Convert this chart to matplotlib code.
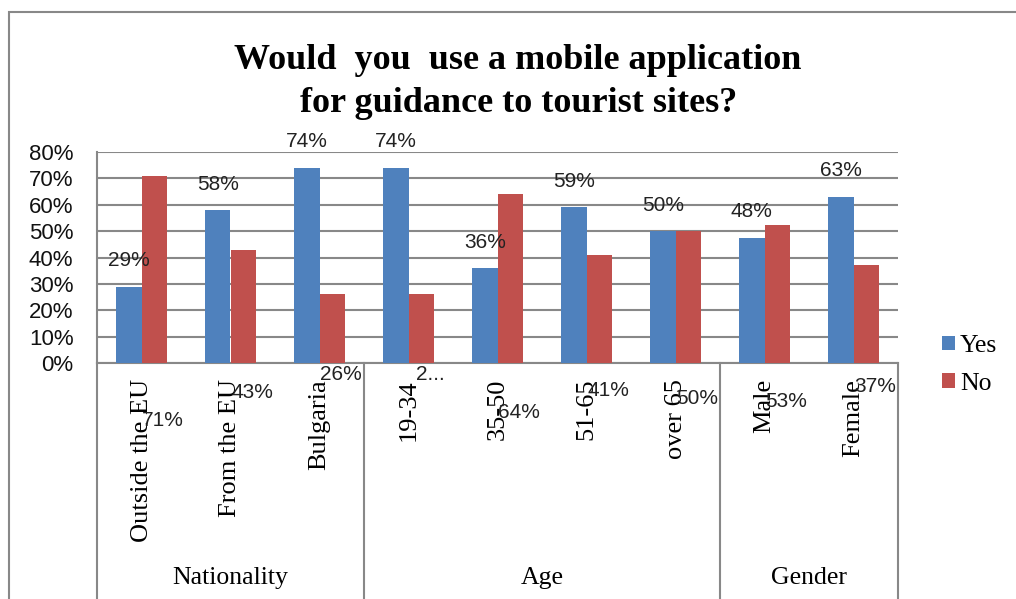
import matplotlib
matplotlib.use("Agg")
import matplotlib.pyplot as plt
from matplotlib.patches import Rectangle, Patch
from matplotlib.lines import Line2D
from matplotlib.transforms import blended_transform_factory

# ---- data ----
categories = ["Outside the EU", "From the EU", "Bulgaria",
              "19-34", "35-50", "51-65", "over 65",
              "Male", "Female"]
groups = ["Nationality", "Age", "Gender"]
group_sizes = [3, 4, 2]
yes_values = [0.29, 0.58, 0.74, 0.74, 0.36, 0.59, 0.50, 0.475, 0.63]
no_values = [0.71, 0.43, 0.26, 0.26, 0.64, 0.41, 0.50, 0.525, 0.37]
yes_labels = ["29%", "58%", "74%", "74%", "36%", "59%", "50%", "48%", "63%"]
no_labels = ["71%", "43%", "26%", "2...", "64%", "41%", "50%", "53%", "37%"]
yticks = [0, 0.1, 0.2, 0.3, 0.4, 0.5, 0.6, 0.7, 0.8]
ytick_labels = ["0%", "10%", "20%", "30%", "40%", "50%", "60%", "70%", "80%"]
title = "Would  you  use a mobile application\nfor guidance to tourist sites?"

BLUE = "#4F81BD"
RED = "#C0504D"
GRID = "#888888"
SERIF = "Liberation Serif"
SANS = "Liberation Sans"

W, H = 1016, 599
fig = plt.figure(figsize=(W / 100, H / 100), dpi=100)
ax = fig.add_axes([97 / W, 1 - 363 / H, (898 - 97) / W, (363 - 152) / H])

bw = 0.285
x = list(range(len(categories)))
ax.bar([i - bw / 2 for i in x], yes_values, width=bw, color=BLUE, zorder=3, label="Yes")
ax.bar([i + bw / 2 for i in x], no_values, width=bw, color=RED, zorder=3, label="No")

ax.set_xlim(-0.5, len(categories) - 0.5)
ax.set_ylim(0, 0.8)
ax.set_yticks(yticks)
ax.set_yticklabels(ytick_labels, fontfamily=SANS, fontsize=16, color="#111111")
ax.tick_params(axis="y", length=0, pad=17)
ax.set_xticks([])
ax.yaxis.grid(True, color=GRID, linewidth=1.5, zorder=0)
ax.set_axisbelow(True)
for s in ["top", "right"]:
    ax.spines[s].set_visible(False)
ax.spines["left"].set_color(GRID)
ax.spines["left"].set_linewidth(1.5)
ax.spines["bottom"].set_color(GRID)
ax.spines["bottom"].set_linewidth(1.5)

# Yes labels above bars
for i, (v, t) in enumerate(zip(yes_values, yes_labels)):
    ax.annotate(t, xy=(i - bw / 2, v), xytext=(0, 26), textcoords="offset pixels",
                ha="center", va="center", fontfamily=SANS, fontsize=15, color="#222222",
                annotation_clip=False)

# No labels (rendered below the axis as in the original)
for i, (v, t) in enumerate(zip(no_values, no_labels)):
    ax.annotate(t, xy=(i + bw / 2, 0), xycoords=("data", "axes fraction"),
                xytext=(9, -(12 + (v - 0.26) * 100)), textcoords="offset pixels",
                ha="center", va="center", fontfamily=SANS, fontsize=15, color="#222222",
                annotation_clip=False, zorder=5)

# Category labels (rotated)
for i, c in enumerate(categories):
    ax.annotate(c, xy=(i, 0), xycoords=("data", "axes fraction"),
                xytext=(0, -16), textcoords="offset pixels",
                rotation=90, ha="center", va="top", fontfamily=SERIF, fontsize=19,
                annotation_clip=False)

# Group labels and separators
trans = blended_transform_factory(ax.transData, ax.transAxes)
bottom_frac = -(H - 363 + 20) / (363 - 152)
start = -0.5
bounds = [start]
for g, n in zip(groups, group_sizes):
    end = start + n
    ax.annotate(g, xy=((start + end) / 2, 0), xycoords=("data", "axes fraction"),
                xytext=(0, -215), textcoords="offset pixels",
                ha="center", va="center", fontfamily=SERIF, fontsize=18.5,
                annotation_clip=False)
    bounds.append(end)
    start = end
for b in bounds:
    ax.add_line(Line2D([b, b], [0, bottom_frac], transform=trans, color=GRID,
                       linewidth=1.5, clip_on=False))

# Title
fig.text(0.51, 1 - 82 / H, title, ha="center", va="center", fontfamily=SERIF,
         fontweight="bold", fontsize=26, linespacing=1.38)

# Legend
handles = [Patch(facecolor=BLUE), Patch(facecolor=RED)]
fig.legend(handles, ["Yes", "No"], loc="center left",
           bbox_to_anchor=(942 / W, 1 - 365 / H), frameon=False,
           prop={"family": SERIF, "size": 18.5}, handlelength=0.5, handleheight=0.5,
           handletextpad=0.2, labelspacing=0.6, borderpad=0, borderaxespad=0)

# Chart border
fig.patches.append(Rectangle((9 / W, -0.1), 2, 1 - 12 / H + 0.1, transform=fig.transFigure,
                             fill=False, edgecolor=GRID, linewidth=1.5))

fig.savefig("out.png", dpi=100)
